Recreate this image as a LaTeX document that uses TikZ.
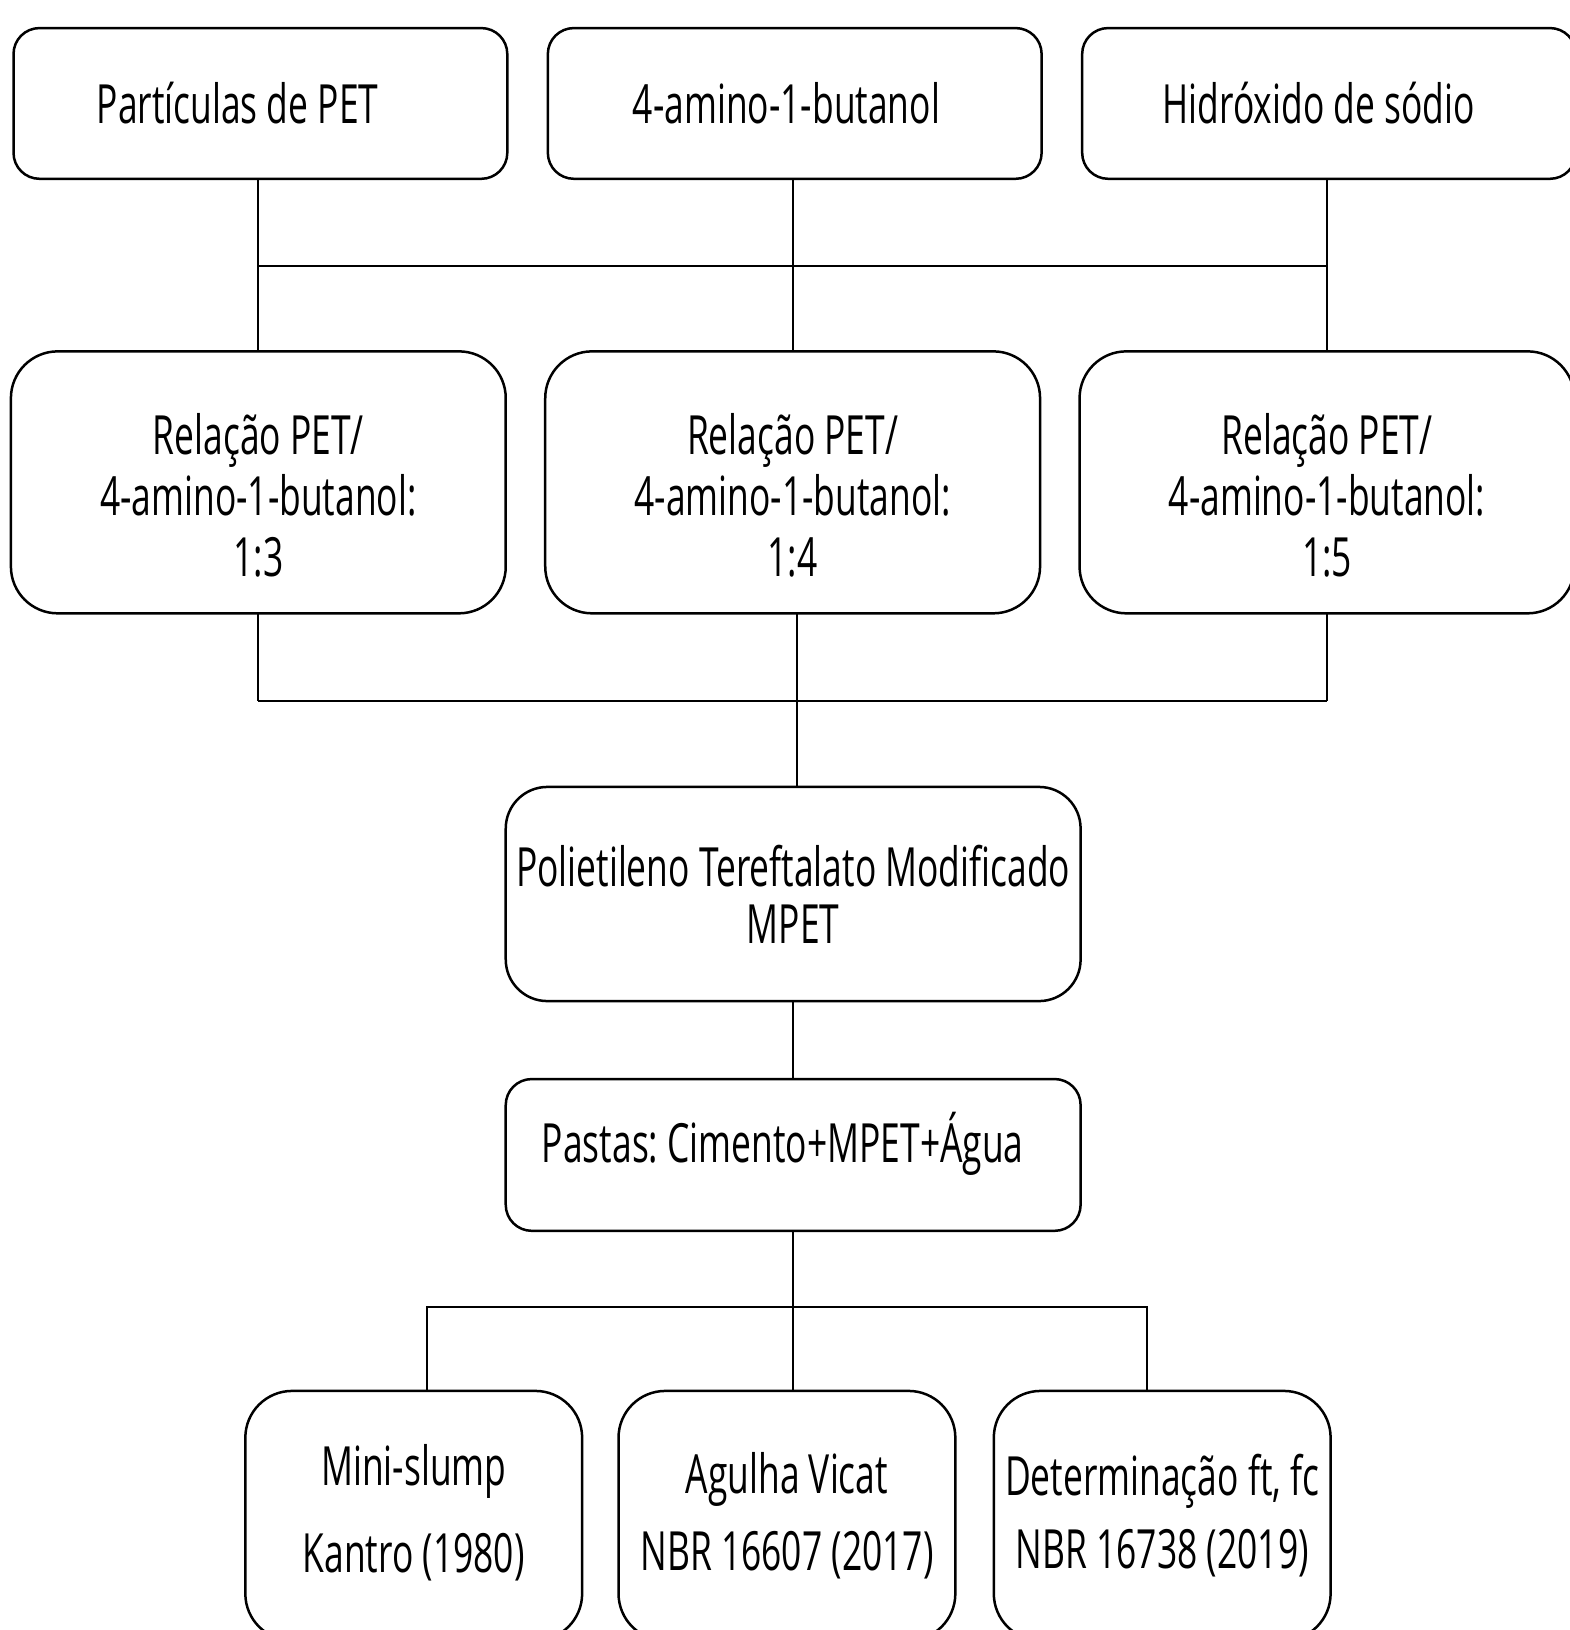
\documentclass[tikz,border=0pt]{standalone}
\usepackage{fontspec}
\setmainfont[FakeStretch=0.655]{Open Sans}
\usepackage{tikz}
\usetikzlibrary{calc, positioning}
\tikzset{
    auto, node distance = 39pt and 39pt,% gap between neighbouring boxes
}
\frenchspacing
\newcommand{\padtop}[1]{\rule{0pt}{#1}}% extra room above the first line
\newcommand{\padbot}[1]{\rule[-#1]{0pt}{0pt}}% extra room below the last line

\begin{document}
\begin{tikzpicture}[x=1pt, y=1pt
        ,every node/.style ={draw, line width=2.4pt, align=center, inner sep=0pt, outer sep=0pt,
            font=\fontsize{52}{58.5}\selectfont},
        topbox/.style ={minimum width=475pt, minimum height=145pt, rounded corners=25pt},
        ratiobox/.style ={minimum width=476pt, minimum height=252pt, rounded corners=45pt},
        midbox/.style ={minimum width=553pt, rounded corners=40pt},
        testbox/.style ={minimum width=324pt, minimum height=240pt, rounded corners=45pt},
        link/.style ={line width=2pt},]
            \useasboundingbox (0,0) rectangle (1510,-1568);
            \node[topbox] (pet) at (250.5,-99.5) {Partículas de PET\hspace*{44pt}};
            \node[topbox] (amino) [right =of pet] {4-amino-1-butanol\hspace*{16pt}};
            \node[topbox] (naoh) [right =of amino] {Hidróxido de sódio\hspace*{20pt}};
            \node[ratiobox] (r13) at (248.5,-464) {\padtop{64pt}Relação PET/\\4-amino-1-butanol:\\1:3};
            \node[ratiobox] (r14) [right =38pt of r13] {\padtop{64pt}Relação PET/\\4-amino-1-butanol:\\1:4};
            \node[ratiobox] (r15) [right =38pt of r14] {\padtop{64pt}Relação PET/\\4-amino-1-butanol:\\1:5};
            \node[midbox, minimum height=206pt, font=\fontsize{52}{55}\selectfont] (mpet) at (763,-860) {Polietileno Tereftalato Modificado\\MPET};
            \node[midbox, minimum height=146pt, rounded corners=25pt] (pastas) [below =75pt of mpet] {Pastas: Cimento+MPET+Água\hspace*{20pt}\padbot{33pt}};
            \node[testbox] (vicat) at (757,-1458) {Agulha Vicat\\[16pt]NBR 16607 (2017)};
            \node[testbox] (slump) [left =35pt of vicat] {Mini-slump\\[26pt]Kantro (1980)\padbot{14pt}};
            \node[testbox] (ftfc) [right =37pt of vicat] {Determinação ft, fc\\[12pt]NBR 16738 (2019)};
            % junctions
            \draw[link] (r13.north |- pet.south) -- (r13.north);
            \draw[link] (r14.north |- amino.south) -- (r14.north);
            \draw[link] (r15.north |- naoh.south) -- (r15.north);
            \draw[link] ($(r13.north)+(0,82)$) -- ($(r15.north)+(0,82)$);
            \draw[link] (r13.south) -- ++(0,-84) coordinate (jl);
            \draw[link] (r15.south) -- ++(0,-84) coordinate (jr);
            \draw[link] (jl) -- (jr);
            \draw[link] ([xshift=4pt]mpet.north |- r14.south) -- ([xshift=4pt]mpet.north);
            \draw[link] (mpet.south) -- (pastas.north);
            \draw[link] (pastas.south) -- (pastas.south |- vicat.north);
            \coordinate (sl) at ([xshift=13pt]slump.north);
            \coordinate (sr) at ([xshift=-15pt]ftfc.north);
            \draw[link] (sl) -- ++(0,81) -- ($(sr)+(0,81)$) -- (sr);
        \end{tikzpicture}
\end{document}
